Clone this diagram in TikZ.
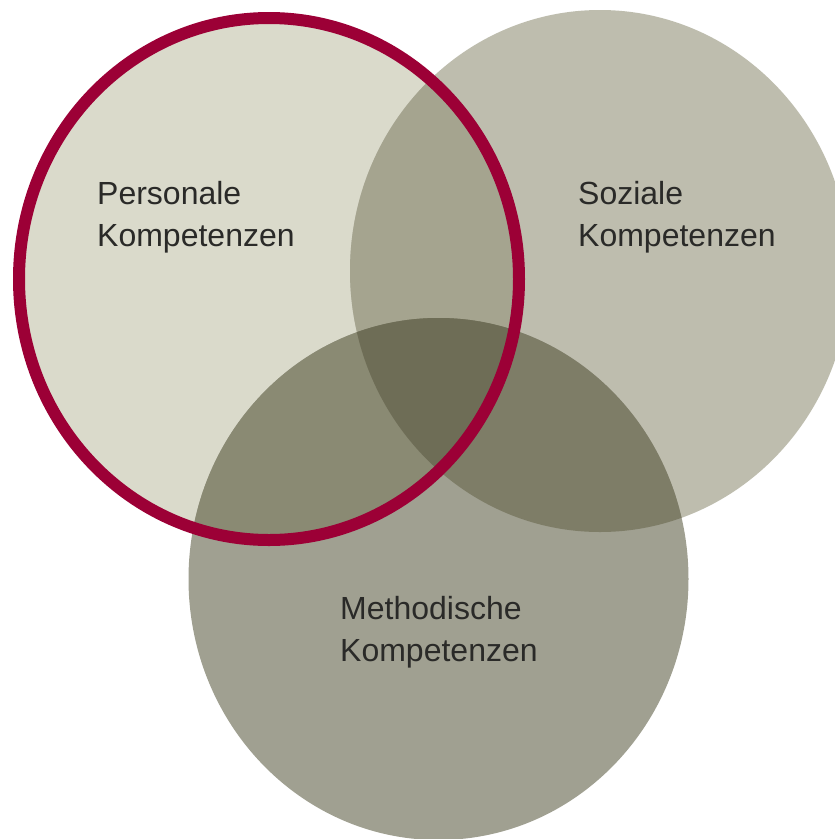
\documentclass[tikz,border=0pt]{standalone}
\usepackage{fontspec}
\setmainfont{Liberation Sans}
\definecolor{colP}{HTML}{DADACB}
\definecolor{colS}{HTML}{BEBDAE}
\definecolor{colM}{HTML}{A0A091}
\definecolor{colPS}{HTML}{A5A48F}
\definecolor{colPM}{HTML}{8A8A73}
\definecolor{colSM}{HTML}{7E7D67}
\definecolor{colPSM}{HTML}{6E6D56}
\definecolor{ringred}{HTML}{9C0036}
\definecolor{txt}{HTML}{2A2A28}
\tikzset{
  label/.style={anchor=north west, inner sep=0pt, align=left, text=txt,
    font=\fontsize{32}{42}\selectfont},
}
\def\Pshape{(269,279) ellipse [x radius=250pt, y radius=261pt]}
\def\Sshape{(600,271) ellipse [x radius=250pt, y radius=261pt]}
\def\Mshape{(438.5,579) ellipse [x radius=250pt, y radius=261pt]}
\begin{document}
\begin{tikzpicture}[x=1pt,y=-1pt]
\useasboundingbox[fill=white] (0,0) rectangle (835,839);
\fill[colP] \Pshape;
\fill[colS] \Sshape;
\fill[colM] \Mshape;
\begin{scope}\clip \Pshape; \fill[colPS] \Sshape; \end{scope}
\begin{scope}\clip \Pshape; \fill[colPM] \Mshape; \end{scope}
\begin{scope}\clip \Sshape; \fill[colSM] \Mshape; \end{scope}
\begin{scope}\clip \Pshape; \clip \Sshape; \fill[colPSM] \Mshape; \end{scope}
\draw[ringred, line width=12pt] \Pshape;
\node[label] (personal) at (97,181) {Personale\\Kompetenzen};
\node[label] (sozial) at (578,181) {Soziale\\Kompetenzen};
\node[label] (method) at (340,596) {Methodische\\Kompetenzen};
\end{tikzpicture}
\end{document}
